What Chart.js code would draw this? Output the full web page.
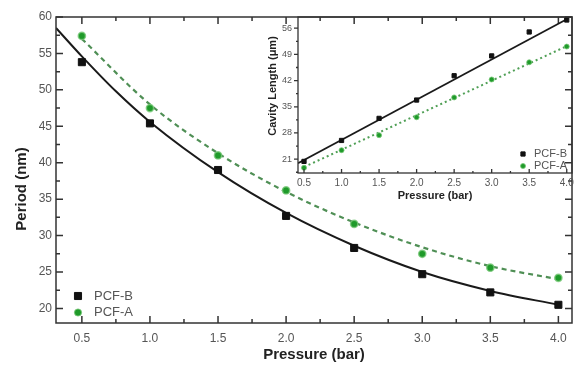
<!DOCTYPE html>
<html>
<head>
<meta charset="utf-8">
<script src="https://cdn.jsdelivr.net/npm/chart.js@4.4.1/dist/chart.umd.min.js"></script>
<style>
  html, body { margin: 0; padding: 0; background: #fff; }
  #wrap { position: relative; width: 581px; height: 365px; }
  #mainChart { position: absolute; left: 0; top: 0; }
  #insetChart { position: absolute; left: 258px; top: 0; }
</style>
</head>
<body>
<div id="wrap">
  <canvas id="mainChart" width="581" height="365"></canvas>
  <canvas id="insetChart" width="323" height="205"></canvas>
</div>
<script>
// main plot: period vs pressure
var pressure = [0.5, 1.0, 1.5, 2.0, 2.5, 3.0, 3.5, 4.0];
var periodB = [53.8, 45.4, 39.0, 32.7, 28.3, 24.7, 22.2, 20.5];
var periodA = [57.4, 47.5, 41.0, 36.2, 31.6, 27.5, 25.6, 24.2];
// fitted curves
var fitBX = [0.31, 0.5, 0.75, 1.0, 1.5, 2.0, 2.5, 3.0, 3.5, 4.0];
var fitBY = [58.5, 54.6, 49.8, 45.6, 38.7, 33.1, 28.6, 25.0, 22.4, 20.5];
var fitAX = [0.5, 1.0, 1.5, 2.0, 2.5, 3.0, 3.5, 4.0];
var fitAY = [57.0, 48.0, 41.3, 36.0, 31.8, 28.4, 25.8, 24.0];
var xTicks = [0.5, 1.0, 1.5, 2.0, 2.5, 3.0, 3.5, 4.0];
var yTicks = [20, 25, 30, 35, 40, 45, 50, 55, 60];

// inset: cavity length vs pressure
var cavityB = [20.4, 26.0, 31.9, 36.8, 43.3, 48.6, 55.0, 58.2];
var cavityA = [18.7, 23.4, 27.4, 32.2, 37.5, 42.3, 46.9, 51.1];
var insetFitBX = [0.42, 4.0];
var insetFitBY = [19.9, 58.4];
var insetFitAX = [0.5, 4.0];
var insetFitAY = [18.9, 51.2];
var insetYTicks = [21, 28, 35, 42, 49, 56];

var FONT = "Arial, 'Liberation Sans', sans-serif";
var GREEN = '#1f9a2a';
var BLACK = '#111111';

function pts(xs, ys) {
  return xs.map(function (x, i) { return {x: x, y: ys[i]}; });
}

function minorsOf(ticks, min, max) {
  var step = ticks[1] - ticks[0];
  var out = [];
  for (var i = -1; i < ticks.length; i++) {
    var v = ticks[0] + (i + 0.5) * step;
    if (v > min && v < max) out.push(v);
  }
  return out;
}

// box + tick marks
var framePlugin = {
  id: 'frame',
  afterDatasetsDraw: function (chart, args, o) {
    var ctx = chart.ctx, a = chart.chartArea;
    var xs = chart.scales.x, ys = chart.scales.y;
    ctx.save();
    ctx.strokeStyle = o.color;
    ctx.lineWidth = o.width;
    ctx.strokeRect(a.left, a.top, a.right - a.left, a.bottom - a.top);
    ctx.beginPath();
    function xMark(v, len) {
      var p = xs.getPixelForValue(v);
      ctx.moveTo(p, a.bottom); ctx.lineTo(p, a.bottom - len);
      if (o.mirror) { ctx.moveTo(p, a.top); ctx.lineTo(p, a.top + len); }
    }
    function yMark(v, len) {
      var p = ys.getPixelForValue(v);
      var d = o.leftOut ? -len : len;
      ctx.moveTo(a.left, p); ctx.lineTo(a.left + d, p);
      if (o.mirror) { ctx.moveTo(a.right, p); ctx.lineTo(a.right - len, p); }
    }
    o.xMajor.forEach(function (v) { xMark(v, o.major); });
    minorsOf(o.xMajor, xs.min, xs.max).forEach(function (v) { xMark(v, o.minor); });
    o.yMajor.forEach(function (v) { yMark(v, o.major); });
    minorsOf(o.yMajor, ys.min, ys.max).forEach(function (v) { yMark(v, o.minor); });
    ctx.stroke();
    ctx.restore();
  }
};

// small legend inside the plot, built from the marker datasets
var boxLegend = {
  id: 'boxLegend',
  afterDraw: function (chart, args, o) {
    var ctx = chart.ctx;
    ctx.save();
    ctx.font = o.font;
    ctx.textBaseline = 'middle';
    var row = 0;
    chart.data.datasets.forEach(function (ds) {
      if (ds.isFit) return;
      var y = o.y + row * o.dy;
      ctx.fillStyle = ds.backgroundColor;
      ctx.strokeStyle = ds.borderColor;
      Chart.helpers.drawPoint(ctx, {pointStyle: ds.pointStyle, radius: ds.pointRadius, rotation: 0, borderWidth: 1}, o.x, y);
      ctx.fillStyle = o.color;
      ctx.fillText(ds.label, o.x + o.gap, y);
      row++;
    });
    ctx.restore();
  }
};

// rotated y title placed where the picture has it
var sideTitle = {
  id: 'sideTitle',
  afterDraw: function (chart, args, o) {
    var ctx = chart.ctx;
    ctx.save();
    ctx.translate(o.x, o.y);
    ctx.rotate(-Math.PI / 2);
    ctx.font = o.font;
    ctx.fillStyle = o.color;
    ctx.textAlign = 'center';
    ctx.textBaseline = 'middle';
    ctx.fillText(o.text, 0, 0);
    ctx.restore();
  }
};

Chart.register(framePlugin, boxLegend, sideTitle);

new Chart(document.getElementById('mainChart').getContext('2d'), {
  type: 'scatter',
  data: {
    datasets: [
      {label: 'PCF-B', data: pts(pressure, periodB), pointStyle: 'rect', pointRadius: 5,
       backgroundColor: BLACK, borderColor: BLACK, showLine: false},
      {label: 'PCF-A', data: pts(pressure, periodA), pointStyle: 'circle', pointRadius: 3.6,
       backgroundColor: GREEN, borderColor: 'rgba(120,200,120,0.8)', pointBorderWidth: 1.5, showLine: false},
      {label: 'fit B', isFit: true, data: pts(fitBX, fitBY), showLine: true, pointRadius: 0,
       borderColor: '#1a1a1a', borderWidth: 2, cubicInterpolationMode: 'monotone'},
      {label: 'fit A', isFit: true, data: pts(fitAX, fitAY), showLine: true, pointRadius: 0,
       borderColor: '#4f8f55', borderWidth: 2.2, borderDash: [5, 4], cubicInterpolationMode: 'monotone'}
    ]
  },
  options: {
    responsive: false,
    animation: false,
    events: [],
    layout: {padding: {left: 10, top: 17, right: 9, bottom: 0}},
    scales: {
      x: {
        type: 'linear', min: 0.31, max: 4.1,
        afterBuildTicks: function (s) { s.ticks = xTicks.map(function (v) { return {value: v}; }); },
        afterFit: function (s) { s.height = 42; },
        grid: {display: false, drawTicks: false},
        border: {display: false},
        ticks: {font: {family: FONT, size: 12}, color: '#555', padding: 8,
                callback: function (v) { return v.toFixed(1); }},
        title: {display: true, text: 'Pressure (bar)', color: '#222',
                font: {family: FONT, size: 15, weight: 'bold'}, padding: {top: 0, bottom: 1}}
      },
      y: {
        type: 'linear', min: 18, max: 60,
        afterBuildTicks: function (s) { s.ticks = yTicks.map(function (v) { return {value: v}; }); },
        afterFit: function (s) { s.width = 46; },
        grid: {display: false, drawTicks: false},
        border: {display: false},
        ticks: {font: {family: FONT, size: 12}, color: '#555', padding: 4}
      }
    },
    plugins: {
      legend: {display: false},
      tooltip: {enabled: false},
      frame: {color: '#333', width: 1.5, major: 7, minor: 4, mirror: true, leftOut: false,
              xMajor: xTicks, yMajor: yTicks},
      boxLegend: {x: 78, y: 296, dy: 16.5, gap: 16, font: '13px ' + FONT, color: '#555'},
      sideTitle: {text: 'Period (nm)', x: 22, y: 189, font: 'bold 15px ' + FONT, color: '#222'}
    }
  }
});

new Chart(document.getElementById('insetChart').getContext('2d'), {
  type: 'scatter',
  data: {
    datasets: [
      {label: 'PCF-B', data: pts(pressure, cavityB), pointStyle: 'rect', pointRadius: 3,
       backgroundColor: BLACK, borderColor: BLACK, showLine: false},
      {label: 'PCF-A', data: pts(pressure, cavityA), pointStyle: 'circle', pointRadius: 2.5,
       backgroundColor: GREEN, borderColor: 'rgba(120,200,120,0.8)', pointBorderWidth: 1, showLine: false},
      {label: 'fit B', isFit: true, data: pts(insetFitBX, insetFitBY), showLine: true, pointRadius: 0,
       borderColor: '#1a1a1a', borderWidth: 1.8},
      {label: 'fit A', isFit: true, data: pts(insetFitAX, insetFitAY), showLine: true, pointRadius: 0,
       borderColor: '#4f9f55', borderWidth: 2, borderDash: [2, 3]}
    ]
  },
  options: {
    responsive: false,
    animation: false,
    events: [],
    layout: {padding: {left: 10, top: 17, right: 9, bottom: 0}},
    scales: {
      x: {
        type: 'linear', min: 0.42, max: 4.07,
        afterBuildTicks: function (s) { s.ticks = xTicks.map(function (v) { return {value: v}; }); },
        afterFit: function (s) { s.height = 32; },
        grid: {display: false, drawTicks: false},
        border: {display: false},
        ticks: {font: {family: FONT, size: 10}, color: '#555', padding: 4,
                callback: function (v) { return v.toFixed(1); }},
        title: {display: true, text: 'Pressure (bar)', color: '#222',
                font: {family: FONT, size: 11, weight: 'bold'}, padding: {top: 0, bottom: 2}}
      },
      y: {
        type: 'linear', min: 17.3, max: 59,
        afterBuildTicks: function (s) { s.ticks = insetYTicks.map(function (v) { return {value: v}; }); },
        afterFit: function (s) { s.width = 30; },
        grid: {display: false, drawTicks: false},
        border: {display: false},
        ticks: {font: {family: FONT, size: 9}, color: '#555', padding: 6}
      }
    },
    plugins: {
      legend: {display: false},
      tooltip: {enabled: false},
      frame: {color: '#333', width: 1.3, major: 4, minor: 2, mirror: false, leftOut: true,
              xMajor: xTicks, yMajor: insetYTicks},
      boxLegend: {x: 265, y: 154, dy: 12, gap: 11, font: '11px ' + FONT, color: '#555'},
      sideTitle: {text: 'Cavity Length (\u03bcm)', x: 15, y: 86, font: 'bold 11px ' + FONT, color: '#222'}
    }
  }
});
</script>
</body>
</html>
